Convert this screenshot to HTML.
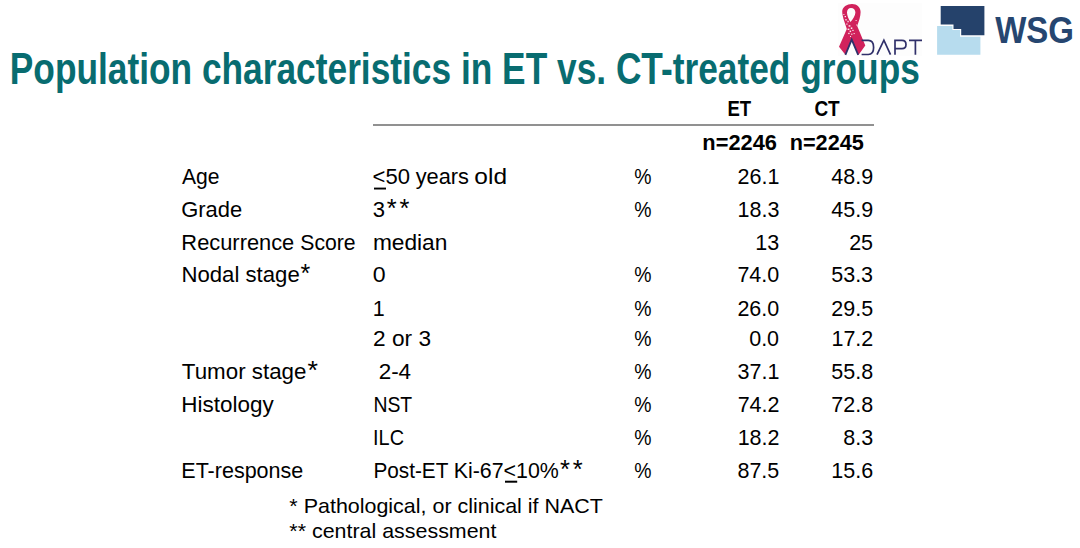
<!DOCTYPE html>
<html><head><meta charset="utf-8"><style>
html,body{margin:0;padding:0;background:#fff;}
svg{display:block;}
text{font-family:"Liberation Sans",sans-serif;white-space:pre;}
</style></head><body>
<svg width="1080" height="548" viewBox="0 0 1080 548">
<rect width="1080" height="548" fill="#fff"/>
<!-- ADAPT logo -->
<g>
<rect x="838" y="2.8" width="84" height="53" fill="#fdfdfd"/>
<path fill-rule="evenodd" fill="#d1225c" d="M852,4 C857,4 860.6,7.5 860.6,12 C860.6,16 859,21 857.2,26 L865.3,45.6 L858.5,54.9 L851.7,39.6 L845.4,54.8 L839,46.8 L846.8,29 C845.5,24 842.2,17 842.2,11.5 C842.2,7 847,4 852,4 Z M851,8 C853.7,8 855.4,9.8 855.4,12.5 C855.4,15.5 853,19 850.5,22 C848.5,19 847,15.5 847,12.5 C847,9.8 848.5,8 851,8 Z"/>
<g fill="#fff" opacity="0.9">
<rect x="844.6" y="16" width="1.4" height="1.2"/><rect x="845.2" y="19.2" width="1.6" height="1.2"/>
<rect x="847.4" y="20.8" width="1.3" height="1.5"/><rect x="846.3" y="23.5" width="1.2" height="1.2"/>
<rect x="848.6" y="25.2" width="1.8" height="1.5"/><rect x="850.8" y="27.4" width="1.5" height="1.6"/>
<rect x="847.6" y="28.6" width="1.7" height="1.4"/><rect x="849.6" y="30.6" width="1.5" height="1.5"/>
<rect x="852.3" y="29.8" width="1.3" height="1.2"/><rect x="848.2" y="32.8" width="1.4" height="1.3"/>
<rect x="851.2" y="33.6" width="1.2" height="1.2"/><rect x="853.6" y="33" width="1.1" height="1.1"/>
<rect x="855.6" y="20" width="1" height="1"/><rect x="856.2" y="24.5" width="1" height="1"/>
<rect x="850" y="36" width="1" height="1"/><rect x="843.4" y="14" width="1" height="1"/>
</g>
<path d="M845.4,54.8 L851.7,39.6 L858.2,54.9" fill="none" stroke="#30306a" stroke-width="1.8"/>
<path d="M861.6,40.3 H868.3 C872,40.3 873.6,43.5 873.6,47.5 C873.6,51.5 872,54.5 868.3,54.5 H861.6" fill="none" stroke="#30306a" stroke-width="1.7"/>
<path d="M877,54.7 L883.9,40.2 L890.5,54.7" fill="none" stroke="#30306a" stroke-width="1.7"/>
<path d="M895,54.8 V40.3 H902 C905,40.3 906,42.5 906,44.5 C906,46.5 905,48.6 902,48.6 H895" fill="none" stroke="#30306a" stroke-width="1.7"/>
<path d="M909,40.3 H922 M915.4,40.3 V54.8" fill="none" stroke="#30306a" stroke-width="1.7"/>
</g>
<!-- WSG logo -->
<polygon points="937.1,26.1 952.4,26.1 952.4,30.1 960.1,30.1 960.1,36.7 980.4,36.7 980.4,54.7 937.1,54.7" fill="#b7dcee"/>
<polygon points="940.7,6 984.4,6 984.4,35.3 961.2,35.3 961.2,29 953.5,29 953.5,24.6 940.7,24.6" fill="#25426b"/>
<!-- header rule -->
<rect x="373" y="124" width="501" height="2" fill="#919191"/>
<!-- underlines -->
<rect x="374" y="187.6" width="12" height="1.9" fill="#000"/>
<rect x="505" y="480.7" width="12.2" height="2" fill="#000"/>

<text x="9.79" y="83.8" font-size="44" font-weight="bold" fill="#086c70" textLength="910.06" lengthAdjust="spacingAndGlyphs">Population characteristics in ET vs. CT-treated groups</text>
<text x="995.14" y="43.3" font-size="37.5" font-weight="bold" fill="#264670" textLength="78.82" lengthAdjust="spacingAndGlyphs">WSG</text>
<text x="727.52" y="116.4" font-size="21.5" font-weight="bold" fill="#000" textLength="23.67" lengthAdjust="spacingAndGlyphs">ET</text>
<text x="814.41" y="116.4" font-size="21.5" font-weight="bold" fill="#000" textLength="25.31" lengthAdjust="spacingAndGlyphs">CT</text>
<text x="702.35" y="149.8" font-size="21.5" font-weight="bold" fill="#000" textLength="74.56" lengthAdjust="spacingAndGlyphs">n=2246</text>
<text x="789.71" y="149.8" font-size="21.5" font-weight="bold" fill="#000" textLength="74.09" lengthAdjust="spacingAndGlyphs">n=2245</text>
<text x="182.00" y="184" font-size="21.5" fill="#000" textLength="37.54" lengthAdjust="spacingAndGlyphs">Age</text>
<text x="634.33" y="184" font-size="21.5" fill="#000" textLength="17.26" lengthAdjust="spacingAndGlyphs">%</text>
<text x="737.60" y="184" font-size="21.5" fill="#000">26.1</text>
<text x="831.37" y="184" font-size="21.5" fill="#000">48.9</text>
<text x="181.16" y="217" font-size="21.5" fill="#000" textLength="60.98" lengthAdjust="spacingAndGlyphs">Grade</text>
<text x="372.85" y="217" font-size="21.5" fill="#000" textLength="12.28" lengthAdjust="spacingAndGlyphs">3</text>
<text x="634.33" y="217" font-size="21.5" fill="#000" textLength="17.26" lengthAdjust="spacingAndGlyphs">%</text>
<text x="737.55" y="217" font-size="21.5" fill="#000">18.3</text>
<text x="831.37" y="217" font-size="21.5" fill="#000">45.9</text>
<text x="372.90" y="250" font-size="21.5" fill="#000" textLength="74.48" lengthAdjust="spacingAndGlyphs">median</text>
<text x="755.35" y="250" font-size="21.5" fill="#000">13</text>
<text x="849.15" y="250" font-size="21.5" fill="#000">25</text>
<text x="181.48" y="282" font-size="21.5" fill="#000" textLength="118.24" lengthAdjust="spacingAndGlyphs">Nodal stage</text>
<text x="372.85" y="282" font-size="21.5" fill="#000" textLength="12.87" lengthAdjust="spacingAndGlyphs">0</text>
<text x="634.33" y="282" font-size="21.5" fill="#000" textLength="17.26" lengthAdjust="spacingAndGlyphs">%</text>
<text x="737.39" y="282" font-size="21.5" fill="#000">74.0</text>
<text x="831.24" y="282" font-size="21.5" fill="#000">53.3</text>
<text x="372.86" y="316" font-size="21.5" fill="#000">1</text>
<text x="634.33" y="316" font-size="21.5" fill="#000" textLength="17.26" lengthAdjust="spacingAndGlyphs">%</text>
<text x="737.39" y="316" font-size="21.5" fill="#000">26.0</text>
<text x="831.32" y="316" font-size="21.5" fill="#000">29.5</text>
<text x="373.11" y="346" font-size="21.5" fill="#000" textLength="57.95" lengthAdjust="spacingAndGlyphs">2 or 3</text>
<text x="634.33" y="346" font-size="21.5" fill="#000" textLength="17.26" lengthAdjust="spacingAndGlyphs">%</text>
<text x="749.20" y="346" font-size="21.5" fill="#000">0.0</text>
<text x="831.45" y="346" font-size="21.5" fill="#000">17.2</text>
<text x="181.87" y="379" font-size="21.5" fill="#000" textLength="124.57" lengthAdjust="spacingAndGlyphs">Tumor stage</text>
<text x="378.66" y="379" font-size="21.5" fill="#000" textLength="32.46" lengthAdjust="spacingAndGlyphs">2-4</text>
<text x="634.33" y="379" font-size="21.5" fill="#000" textLength="17.26" lengthAdjust="spacingAndGlyphs">%</text>
<text x="737.60" y="379" font-size="21.5" fill="#000">37.1</text>
<text x="831.27" y="379" font-size="21.5" fill="#000">55.8</text>
<text x="181.27" y="412" font-size="21.5" fill="#000" textLength="92.37" lengthAdjust="spacingAndGlyphs">Histology</text>
<text x="373.42" y="412" font-size="21.5" fill="#000" textLength="38.77" lengthAdjust="spacingAndGlyphs">NST</text>
<text x="634.33" y="412" font-size="21.5" fill="#000" textLength="17.26" lengthAdjust="spacingAndGlyphs">%</text>
<text x="737.65" y="412" font-size="21.5" fill="#000">74.2</text>
<text x="831.27" y="412" font-size="21.5" fill="#000">72.8</text>
<text x="373.06" y="445" font-size="21.5" fill="#000" textLength="30.95" lengthAdjust="spacingAndGlyphs">ILC</text>
<text x="634.33" y="445" font-size="21.5" fill="#000" textLength="17.26" lengthAdjust="spacingAndGlyphs">%</text>
<text x="737.65" y="445" font-size="21.5" fill="#000">18.2</text>
<text x="843.24" y="445" font-size="21.5" fill="#000">8.3</text>
<text x="181.31" y="478" font-size="21.5" fill="#000" textLength="121.97" lengthAdjust="spacingAndGlyphs">ET-response</text>
<text x="634.33" y="478" font-size="21.5" fill="#000" textLength="17.26" lengthAdjust="spacingAndGlyphs">%</text>
<text x="737.45" y="478" font-size="21.5" fill="#000">87.5</text>
<text x="831.26" y="478" font-size="21.5" fill="#000">15.6</text>
<text x="289.38" y="512.9" font-size="21" fill="#000" textLength="313.52" lengthAdjust="spacingAndGlyphs">* Pathological, or clinical if NACT</text>
<text x="289.38" y="538.0" font-size="21" fill="#000" textLength="207.10" lengthAdjust="spacingAndGlyphs">** central assessment</text>
<text x="386.69" y="217" font-size="25.5" fill="#000" textLength="22.69" lengthAdjust="spacing">**</text>
<text x="300.51" y="282" font-size="25.5" fill="#000" textLength="9.73" lengthAdjust="spacingAndGlyphs">*</text>
<text x="307.48" y="379" font-size="25.5" fill="#000" textLength="10.47" lengthAdjust="spacingAndGlyphs">*</text>
<text x="560.00" y="478" font-size="25.5" fill="#000" textLength="22.75" lengthAdjust="spacing">**</text>
<text x="372.55" y="184" font-size="21.5" fill="#000" textLength="37.36" lengthAdjust="spacingAndGlyphs">&lt;50</text>
<text x="415.67" y="184" font-size="21.5" fill="#000" textLength="53.29" lengthAdjust="spacingAndGlyphs">years</text>
<text x="474.36" y="184" font-size="21.5" fill="#000" textLength="32.65" lengthAdjust="spacingAndGlyphs">old</text>
<text x="181.38" y="250" font-size="21.5" fill="#000" textLength="112.89" lengthAdjust="spacingAndGlyphs">Recurrence</text>
<text x="300.32" y="250" font-size="21.5" fill="#000" textLength="55.33" lengthAdjust="spacingAndGlyphs">Score</text>
<text x="373.42" y="478" font-size="21.5" fill="#000" textLength="74.99" lengthAdjust="spacingAndGlyphs">Post-ET</text>
<text x="453.69" y="478" font-size="21.5" fill="#000" textLength="105.15" lengthAdjust="spacingAndGlyphs">Ki-67&lt;10%</text>
</svg>
</body></html>
